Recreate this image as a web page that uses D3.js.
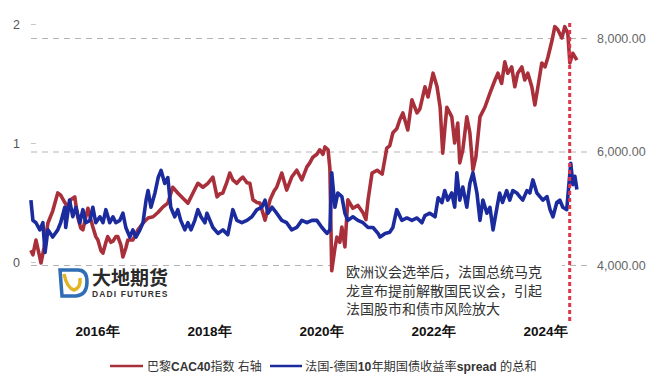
<!DOCTYPE html>
<html>
<head>
<meta charset="utf-8">
<script src="https://cdn.jsdelivr.net/npm/d3@7"></script>
<style>
  html, body { margin: 0; padding: 0; background: #fff; }
  svg { display: block; font-family: "Liberation Sans", Arial, "Noto Sans CJK SC", sans-serif; }
</style>
</head>
<body>
<svg id="chart" width="660" height="385"></svg>
<script>
// 巴黎CAC40指数 (右轴)
const cacDates = [
  '2014-10-27','2014-11-09','2014-11-29','2015-01-01','2015-01-20','2015-02-15','2015-03-18','2015-04-20',
  '2015-05-09','2015-06-05','2015-06-24','2015-07-13','2015-08-09','2015-08-28','2015-09-17','2015-10-01',
  '2015-10-20','2015-11-03','2015-11-22','2015-12-05','2015-12-24','2016-01-07','2016-01-27','2016-02-09',
  '2016-02-28','2016-03-11','2016-04-01','2016-04-14','2016-05-03','2016-05-16','2016-06-05','2016-06-18',
  '2016-07-07','2016-07-20','2016-08-22','2016-09-24','2016-10-27','2016-11-29','2017-01-01','2017-02-03',
  '2017-03-05','2017-04-07','2017-05-09','2017-06-11','2017-07-13','2017-08-16','2017-09-18','2017-10-20',
  '2017-11-22','2017-12-24','2018-01-26','2018-02-22','2018-03-11','2018-04-01','2018-04-26','2018-05-16',
  '2018-06-05','2018-07-01','2018-07-20','2018-08-09','2018-09-05','2018-09-24','2018-10-14','2018-11-09',
  '2018-11-29','2019-01-01','2019-02-03','2019-02-28','2019-03-18','2019-04-20','2019-05-22','2019-06-24',
  '2019-07-27','2019-08-29','2019-10-01','2019-10-20','2019-11-09','2019-12-05','2019-12-24','2020-01-14',
  '2020-01-27','2020-02-16','2020-02-28','2020-03-11','2020-04-01','2020-04-14','2020-05-03','2020-05-16',
  '2020-06-05','2020-06-24','2020-07-27','2020-08-29','2020-10-01','2020-10-20','2020-11-03','2020-11-29',
  '2021-01-01','2021-02-03','2021-03-05','2021-03-24','2021-04-14','2021-05-09','2021-05-29','2021-06-18',
  '2021-07-20','2021-08-16','2021-09-18','2021-10-07','2021-11-09','2021-11-29','2022-01-01','2022-01-27',
  '2022-02-16','2022-03-05','2022-03-18','2022-04-01','2022-05-03','2022-05-22','2022-06-11','2022-06-24',
  '2022-07-14','2022-08-09','2022-08-29','2022-09-18','2022-10-07','2022-11-03','2022-12-05','2023-01-07',
  '2023-02-09','2023-02-28','2023-03-24','2023-04-14','2023-05-03','2023-05-29','2023-06-18','2023-07-07',
  '2023-08-03','2023-08-22','2023-09-11','2023-10-07','2023-10-27','2023-11-16','2023-12-11','2024-01-01',
  '2024-01-20','2024-02-16','2024-03-05','2024-03-24','2024-04-20','2024-05-09','2024-05-29','2024-06-11',
  '2024-07-01','2024-07-27'
];
const cacValues = [
  4260, 4180, 4440, 4035, 4300, 4740, 4950, 5270,
  5230, 5100, 5020, 5150, 5200, 4850, 4650, 4620,
  4850, 5000, 4800, 4670, 4500, 4440, 4250, 4210,
  4400, 4500, 4400, 4420, 4500, 4500, 4350, 4140,
  4300, 4440, 4440, 4620, 4740, 4830, 4850, 4930,
  5020, 5090, 5370, 5270, 5180, 5090, 5270, 5440,
  5370, 5440, 5550, 5200, 5250, 5270, 5450, 5620,
  5500, 5440, 5500, 5550, 5450, 5440, 5150, 5100,
  5090, 4790, 5150, 5300, 5370, 5620, 5320, 5550,
  5670, 5500, 5730, 5800, 5900, 5950, 6030, 5950,
  6080, 6030, 5700, 3900, 4300, 4490, 4400, 4670,
  4320, 5150, 5000, 5050, 4920, 4800, 5150, 5620,
  5670, 5600, 6060, 6100, 6330, 6400, 6560, 6680,
  6380, 6910, 6680, 6750, 7140, 6960, 7380, 7140,
  6780, 5970, 6380, 6780, 6610, 6150, 6500, 5800,
  6030, 6610, 6330, 5670, 5900, 6610, 6780, 7030,
  7260, 7380, 7200, 7580, 7380, 7490, 7140, 7380,
  7490, 7260, 7380, 7140, 6820, 7140, 7560, 7490,
  7660, 7960, 8200, 8150, 8000, 8200, 8080, 7560,
  7730, 7610
];

// 法国-德国10年期国债收益率spread 的总和 (左轴)
const spreadDates = [
  '2014-10-27','2014-11-09','2014-11-29','2014-12-24','2015-01-13','2015-01-27','2015-02-15','2015-03-18',
  '2015-04-20','2015-05-09','2015-06-05','2015-06-11','2015-07-06','2015-07-27','2015-08-16','2015-09-11',
  '2015-10-01','2015-10-20','2015-11-16','2015-12-05','2015-12-24','2016-01-20','2016-02-09','2016-02-28',
  '2016-03-24','2016-04-14','2016-05-03','2016-05-29','2016-06-18','2016-07-07','2016-08-02','2016-08-22',
  '2016-09-11','2016-10-07','2016-10-27','2016-11-16','2016-11-29','2016-12-18','2017-01-13','2017-02-03',
  '2017-02-22','2017-03-18','2017-04-07','2017-04-26','2017-05-22','2017-06-11','2017-06-30','2017-07-27',
  '2017-08-16','2017-09-05','2017-09-30','2017-10-20','2017-11-09','2017-12-05','2017-12-18','2018-01-26',
  '2018-02-28','2018-04-01','2018-05-03','2018-06-05','2018-07-01','2018-08-03','2018-09-05','2018-10-07',
  '2018-11-09','2018-12-11','2019-01-01','2019-01-20','2019-02-16','2019-03-18','2019-04-20','2019-05-22',
  '2019-06-24','2019-07-27','2019-08-29','2019-10-01','2019-11-03','2019-12-05','2020-01-07','2020-02-09',
  '2020-02-28','2020-03-11','2020-04-01','2020-04-20','2020-05-16','2020-06-05','2020-06-24','2020-07-27',
  '2020-08-29','2020-10-01','2020-11-03','2020-12-05','2021-01-07','2021-01-20','2021-02-22','2021-03-24',
  '2021-04-14','2021-05-09','2021-06-11','2021-07-14','2021-08-16','2021-09-18','2021-10-20','2021-11-09',
  '2021-12-11','2022-01-14','2022-02-03','2022-02-28','2022-03-18','2022-04-07','2022-05-03','2022-05-22',
  '2022-06-05','2022-06-24','2022-07-14','2022-08-09','2022-08-29','2022-09-18','2022-10-14','2022-11-03',
  '2022-11-22','2022-12-18','2023-01-07','2023-01-27','2023-02-22','2023-03-11','2023-03-30','2023-04-26',
  '2023-05-16','2023-06-05','2023-07-01','2023-07-20','2023-08-09','2023-09-05','2023-09-24','2023-10-14',
  '2023-11-09','2023-11-29','2023-12-18','2024-01-14','2024-02-03','2024-02-22','2024-03-18','2024-04-07',
  '2024-04-26','2024-05-22','2024-05-29','2024-06-17','2024-07-01','2024-07-14','2024-07-27'
];
const spreadValues = [
  0.52, 0.35, 0.33, 0.27, 0.33, 0.08, 0.27, 0.21,
  0.27, 0.33, 0.46, 0.29, 0.52, 0.38, 0.46, 0.33,
  0.44, 0.33, 0.35, 0.46, 0.33, 0.38, 0.33, 0.44,
  0.33, 0.38, 0.33, 0.35, 0.41, 0.29, 0.21, 0.27,
  0.21, 0.27, 0.33, 0.52, 0.60, 0.46, 0.58, 0.71,
  0.77, 0.66, 0.71, 0.46, 0.38, 0.44, 0.35, 0.27,
  0.33, 0.27, 0.35, 0.44, 0.38, 0.33, 0.41, 0.29,
  0.24, 0.27, 0.23, 0.44, 0.35, 0.33, 0.35, 0.38,
  0.44, 0.46, 0.52, 0.41, 0.46, 0.41, 0.35, 0.33,
  0.27, 0.29, 0.35, 0.33, 0.35, 0.35, 0.29, 0.24,
  0.27, 0.75, 0.46, 0.58, 0.55, 0.41, 0.35, 0.38,
  0.35, 0.33, 0.29, 0.29, 0.24, 0.21, 0.24, 0.25,
  0.29, 0.44, 0.35, 0.37, 0.35, 0.37, 0.33, 0.39,
  0.41, 0.38, 0.54, 0.50, 0.60, 0.52, 0.58, 0.46,
  0.75, 0.52, 0.63, 0.46, 0.66, 0.75, 0.58, 0.35,
  0.52, 0.41, 0.46, 0.27, 0.46, 0.58, 0.50, 0.60,
  0.52, 0.60, 0.58, 0.55, 0.52, 0.60, 0.58, 0.69,
  0.58, 0.55, 0.52, 0.55, 0.44, 0.38, 0.50, 0.52,
  0.46, 0.44, 0.55, 0.83, 0.65, 0.72, 0.61
];

const leftTicks = [0, 1, 2];
const rightTicks = [4000, 6000, 8000];
const yearTicks = [2016, 2018, 2020, 2022, 2024];
const eventDate = '2024-06-10';
const noteLines = [
  '欧洲议会选举后，法国总统马克',
  '龙宣布提前解散国民议会，引起',
  '法国股市和债市风险放大'
];

const RED = '#a9303b';
const BLUE = '#1b2b9e';
const EVENT_RED = '#e0344a';

const parse = d3.timeParse('%Y-%m-%d');
const cac = cacDates.map((d, i) => ({ date: parse(d), value: cacValues[i] }));
const spread = spreadDates.map((d, i) => ({ date: parse(d), value: spreadValues[i] }));

const svg = d3.select('#chart');

const x = d3.scaleTime()
    .domain([new Date(2016, 0, 1), new Date(2024, 0, 1)])
    .range([97, 545]);
const yR = d3.scaleLinear().domain([4000, 8000]).range([265, 38]);
const yL = d3.scaleLinear().domain([0, 2]).range([262, 24]);

// grid lines (right axis)
const grid = svg.append('g')
    .attr('transform', 'translate(587,0)')
    .call(d3.axisLeft(yR).tickValues(rightTicks).tickSize(557).tickFormat(''));
grid.select('.domain').remove();
grid.selectAll('line')
    .attr('stroke', '#b3b3b3')
    .attr('stroke-width', 1.2)
    .attr('stroke-dasharray', '6,5');

// right axis labels
const right = svg.append('g')
    .attr('transform', 'translate(597,0)')
    .call(d3.axisRight(yR).tickValues(rightTicks).tickSize(0).tickPadding(0).tickFormat(d3.format(',.2f')));
right.select('.domain').remove();
right.selectAll('text')
    .attr('fill', '#666')
    .style('font-size', '12.5px');

// left axis
const left = svg.append('g')
    .attr('transform', 'translate(36,0)')
    .call(d3.axisLeft(yL).tickValues(leftTicks).tickSize(5).tickPadding(11).tickFormat(d3.format('d')));
left.select('.domain').remove();
left.selectAll('line').attr('stroke', '#c8c8c8');
left.selectAll('text')
    .attr('fill', '#555')
    .style('font-size', '12.5px');

// x axis year labels
const bottom = svg.append('g')
    .attr('transform', 'translate(0,326)')
    .call(d3.axisBottom(x)
        .tickValues(yearTicks.map(y => new Date(y, 0, 1)))
        .tickSize(0).tickPadding(0)
        .tickFormat(d => d.getFullYear() + '年'));
bottom.select('.domain').remove();
bottom.selectAll('text')
    .attr('fill', '#111')
    .style('font-size', '13.5px')
    .style('font-weight', 'bold');

// series
const lineR = d3.line().x(d => x(d.date)).y(d => yR(d.value));
const lineL = d3.line().x(d => x(d.date)).y(d => yL(d.value));

svg.append('path')
    .datum(cac)
    .attr('fill', 'none')
    .attr('stroke', RED)
    .attr('stroke-width', 3.6)
    .attr('stroke-linejoin', 'round')
    .attr('d', lineR);

svg.append('path')
    .datum(spread)
    .attr('fill', 'none')
    .attr('stroke', BLUE)
    .attr('stroke-width', 3.6)
    .attr('stroke-linejoin', 'round')
    .attr('d', lineL);

// annotation box
const note = svg.append('g');
note.append('rect')
    .attr('x', 336).attr('y', 258)
    .attr('width', 226).attr('height', 62)
    .attr('fill', '#fff');
note.selectAll('text')
    .data(noteLines)
    .join('text')
    .attr('x', 346)
    .attr('y', (d, i) => 277 + i * 18.5)
    .attr('fill', '#333')
    .style('font-family', '"Noto Sans CJK SC", sans-serif')
    .style('font-size', '14px')
    .text(d => d);

// event line
const ex = x(parse(eventDate));
svg.append('line')
    .attr('x1', ex).attr('x2', ex)
    .attr('y1', 23).attr('y2', 324)
    .attr('stroke', EVENT_RED)
    .attr('stroke-width', 3)
    .attr('stroke-dasharray', '4,3');

// logo
const logo = svg.append('g').attr('transform', 'translate(58,268)');
logo.append('path')
    .attr('d', 'M2,2 H20 Q29,2 29,14 Q29,27 18,28 H4 Z')
    .attr('fill', 'none')
    .attr('stroke', '#2f6db5')
    .attr('stroke-width', 3.5);
logo.append('path')
    .attr('d', 'M6,6 Q9,20 16,22 Q23,20 22,10')
    .attr('fill', 'none')
    .attr('stroke', '#e2b325')
    .attr('stroke-width', 3.5);
logo.append('text')
    .attr('x', 34).attr('y', 17)
    .attr('fill', '#2a2a2a')
    .style('font-family', '"Noto Sans CJK SC", sans-serif')
    .style('font-size', '19px')
    .style('font-weight', 'bold')
    .text('大地期货');
logo.append('text')
    .attr('x', 34).attr('y', 29)
    .attr('fill', '#333')
    .style('font-size', '8.5px')
    .style('font-weight', 'bold')
    .style('letter-spacing', '1.1px')
    .text('DADI FUTURES');

// legend
const legend = svg.append('g').attr('transform', 'translate(0,366)');
legend.append('line')
    .attr('x1', 110).attr('x2', 143)
    .attr('stroke', RED).attr('stroke-width', 2.5);
const t1 = legend.append('text')
    .attr('x', 147).attr('y', 4.5)
    .attr('fill', '#333')
    .style('font-size', '12px');
t1.append('tspan').text('巴黎');
t1.append('tspan').style('font-weight', 'bold').text('CAC40');
t1.append('tspan').text('指数 右轴');

legend.append('line')
    .attr('x1', 270).attr('x2', 302)
    .attr('stroke', BLUE).attr('stroke-width', 2.5);
const t2 = legend.append('text')
    .attr('x', 305).attr('y', 4.5)
    .attr('fill', '#333')
    .style('font-size', '12.2px');
t2.append('tspan').text('法国-德国');
t2.append('tspan').style('font-weight', 'bold').text('10');
t2.append('tspan').text('年期国债收益率');
t2.append('tspan').style('font-weight', 'bold').text('spread');
t2.append('tspan').text(' 的总和');
</script>
</body>
</html>
